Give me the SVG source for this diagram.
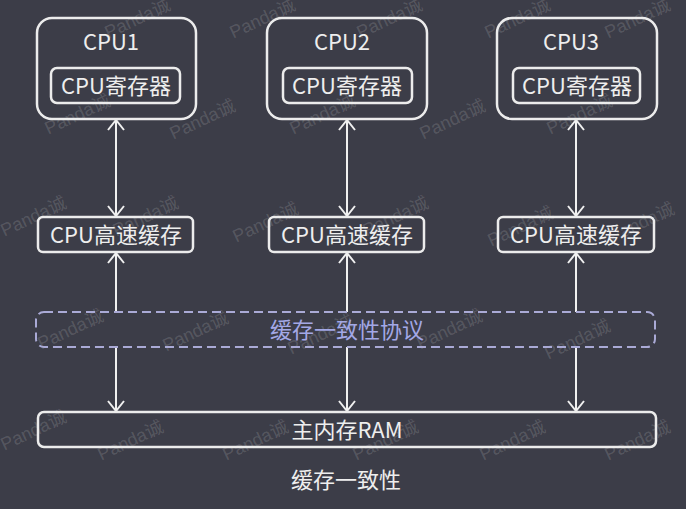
<svg xmlns="http://www.w3.org/2000/svg" width="686" height="509" viewBox="0 0 686 509">
<defs>
<style>
.box{fill:none;stroke:#ececec;stroke-width:2.5}
.t{font-family:"Noto Sans CJK SC","Noto Sans",sans-serif;font-size:22px;fill:#eeeeee;text-anchor:middle}
.conn{stroke:#f0f0f0;stroke-width:2;fill:none}
.wm{font-family:"Liberation Sans","Noto Sans CJK SC",sans-serif;font-size:18px;fill:#ffffff;fill-opacity:0.15;text-anchor:middle}
</style>
<marker id="ah" viewBox="0 0 12 18" refX="11" refY="9" markerWidth="12" markerHeight="18" markerUnits="userSpaceOnUse" orient="auto-start-reverse">
<path d="M1,1 L11,9 L1,17" fill="none" stroke="#f0f0f0" stroke-width="2"/>
</marker>
</defs>
<rect width="686" height="509" fill="#3c3d48"/>
<g id="watermarks">
<text class="wm" transform="translate(140,24) rotate(-25)">Panda诚</text>
<text class="wm" transform="translate(265,24) rotate(-25)">Panda诚</text>
<text class="wm" transform="translate(392,24) rotate(-25)">Panda诚</text>
<text class="wm" transform="translate(520,24) rotate(-25)">Panda诚</text>
<text class="wm" transform="translate(640,24) rotate(-25)">Panda诚</text>
<text class="wm" transform="translate(80,120) rotate(-25)">Panda诚</text>
<text class="wm" transform="translate(205,125) rotate(-25)">Panda诚</text>
<text class="wm" transform="translate(325,120) rotate(-25)">Panda诚</text>
<text class="wm" transform="translate(455,125) rotate(-25)">Panda诚</text>
<text class="wm" transform="translate(582,120) rotate(-25)">Panda诚</text>
<text class="wm" transform="translate(36,222) rotate(-25)">Panda诚</text>
<text class="wm" transform="translate(148,222) rotate(-25)">Panda诚</text>
<text class="wm" transform="translate(268,228) rotate(-25)">Panda诚</text>
<text class="wm" transform="translate(398,222) rotate(-25)">Panda诚</text>
<text class="wm" transform="translate(523,232) rotate(-25)">Panda诚</text>
<text class="wm" transform="translate(644,228) rotate(-25)">Panda诚</text>
<text class="wm" transform="translate(73,335) rotate(-25)">Panda诚</text>
<text class="wm" transform="translate(198,337) rotate(-25)">Panda诚</text>
<text class="wm" transform="translate(323,340) rotate(-25)">Panda诚</text>
<text class="wm" transform="translate(452,335) rotate(-25)">Panda诚</text>
<text class="wm" transform="translate(580,345) rotate(-25)">Panda诚</text>
<text class="wm" transform="translate(36,436) rotate(-25)">Panda诚</text>
<text class="wm" transform="translate(133,446) rotate(-25)">Panda诚</text>
<text class="wm" transform="translate(258,446) rotate(-25)">Panda诚</text>
<text class="wm" transform="translate(388,446) rotate(-25)">Panda诚</text>
<text class="wm" transform="translate(515,446) rotate(-25)">Panda诚</text>
<text class="wm" transform="translate(640,446) rotate(-25)">Panda诚</text>
</g>
<g id="connectors">
<line class="conn" x1="116" y1="120" x2="116" y2="216" marker-start="url(#ah)" marker-end="url(#ah)"/>
<line class="conn" x1="347" y1="120" x2="347" y2="216" marker-start="url(#ah)" marker-end="url(#ah)"/>
<line class="conn" x1="576" y1="120" x2="576" y2="216" marker-start="url(#ah)" marker-end="url(#ah)"/>
<line class="conn" x1="116" y1="253" x2="116" y2="312" marker-start="url(#ah)"/>
<line class="conn" x1="347" y1="253" x2="347" y2="312" marker-start="url(#ah)"/>
<line class="conn" x1="576" y1="253" x2="576" y2="312" marker-start="url(#ah)"/>
<line class="conn" x1="116" y1="347" x2="116" y2="411" marker-end="url(#ah)"/>
<line class="conn" x1="347" y1="347" x2="347" y2="411" marker-end="url(#ah)"/>
<line class="conn" x1="576" y1="347" x2="576" y2="411" marker-end="url(#ah)"/>
</g>
<g id="cpu1">
<rect class="box" x="37" y="18" width="159" height="101" rx="15"/>
<text class="t" x="111" y="50">CPU1</text>
<rect class="box" x="51" y="68" width="129" height="35" rx="6"/>
<text class="t" x="116" y="94">CPU寄存器</text>
</g>
<g id="cpu2">
<rect class="box" x="267" y="18" width="160" height="101" rx="15"/>
<text class="t" x="342" y="50">CPU2</text>
<rect class="box" x="283" y="68" width="129" height="35" rx="6"/>
<text class="t" x="347" y="94">CPU寄存器</text>
</g>
<g id="cpu3">
<rect class="box" x="497" y="18" width="160" height="101" rx="15"/>
<text class="t" x="571" y="50">CPU3</text>
<rect class="box" x="513" y="68" width="127" height="35" rx="6"/>
<text class="t" x="577" y="94">CPU寄存器</text>
</g>
<g id="cache1">
<rect class="box" x="38" y="217" width="155" height="35" rx="5"/>
<text class="t" x="116" y="243">CPU高速缓存</text>
</g>
<g id="cache2">
<rect class="box" x="269" y="217" width="155" height="35" rx="5"/>
<text class="t" x="347" y="243">CPU高速缓存</text>
</g>
<g id="cache3">
<rect class="box" x="498" y="217" width="156" height="35" rx="5"/>
<text class="t" x="576" y="243">CPU高速缓存</text>
</g>
<g id="protocol">
<rect x="36" y="312" width="619" height="35" rx="8" fill="none" stroke="#aaaad6" stroke-width="2" stroke-dasharray="9,5"/>
<text class="t" x="347" y="338" style="fill:#a3a8e6">缓存一致性协议</text>
</g>
<g id="ram">
<rect class="box" x="38" y="412" width="618" height="35" rx="6"/>
<text class="t" x="347" y="438">主内存RAM</text>
</g>
<g id="title">
<text class="t" x="346" y="488">缓存一致性</text>
</g>
</svg>
